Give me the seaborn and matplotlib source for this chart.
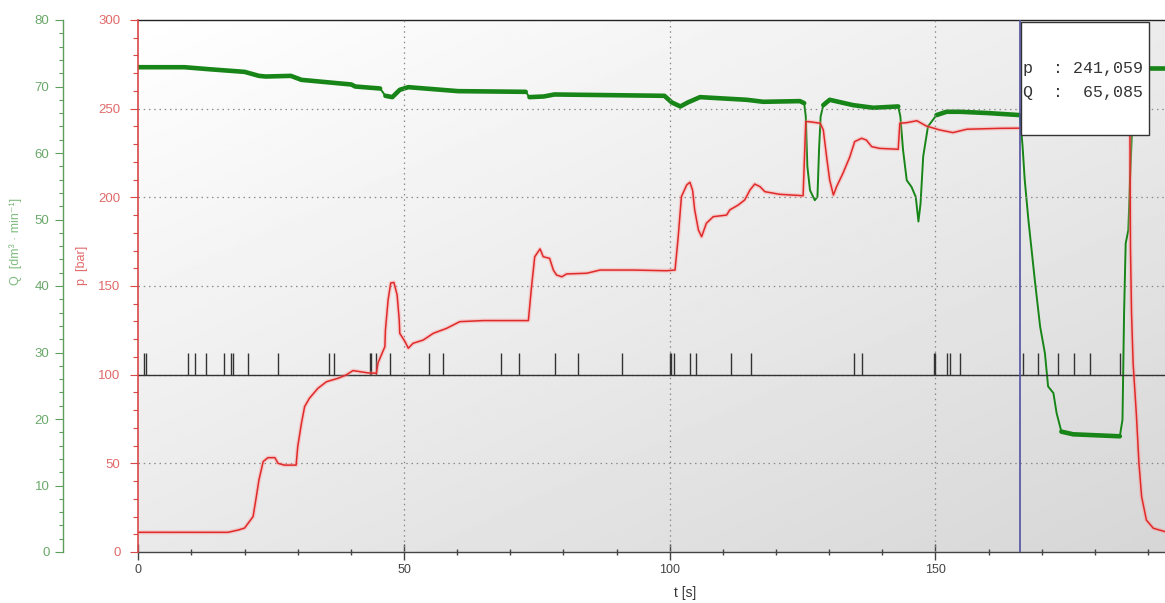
import numpy as np
import pandas as pd
import matplotlib
matplotlib.use("Agg")
import matplotlib.pyplot as plt
import seaborn as sns
from matplotlib.patches import Rectangle
from matplotlib.ticker import FixedLocator, MultipleLocator

# ---------------- data ----------------
t_p = [0, 16.9, 18.8, 20.0, 21.6, 22.2, 22.7, 23.5, 24.4, 25.7, 26.3, 27.5, 29.7, 30.0,
       30.7, 31.3, 32.2, 33.8, 35.4, 37.6, 39.1, 40.4, 43.2, 44.8, 45.1, 46.4, 46.5, 47.0,
       47.5, 48.1, 48.7, 49.1, 49.2, 50.2, 50.8, 51.7, 53.6, 55.5, 58.0, 60.5, 64.9, 73.4,
       74.0, 74.6, 75.6, 76.2, 77.4, 78.1, 78.7, 79.7, 80.6, 84.4, 86.9, 93.1, 99.4, 101.0,
       101.6, 102.2, 103.2, 103.8, 104.3, 104.7, 105.4, 106.0, 106.9, 108.2, 110.7, 111.3,
       112.9, 114.1, 115.1, 116.0, 117.0, 117.9, 120.7, 125.1, 125.6, 126.1, 128.3, 128.9,
       129.6, 130.1, 130.8, 131.4, 132.6, 133.9, 134.8, 136.1, 137.0, 138.0, 139.5, 143.0,
       143.3, 144.6, 146.5, 148.3, 150.8, 153.3, 155.9, 162.1, 165.9, 186.2, 186.6, 186.7,
       186.9, 187.2, 187.8, 188.3, 188.8, 189.7, 191.0, 193.2]
p_bar = [11.1, 11.1, 12.4, 13.5, 20, 31, 40.6, 51, 53.2, 53.2, 50, 49, 49, 59.4,
         72.6, 82, 86.7, 92.3, 96, 98, 99.8, 102.3, 101, 100.8, 106.6, 115.8, 125, 142,
         151.7, 152, 145, 131, 123.3, 118.6, 114.9, 117.7, 119.5, 123.3, 126.1, 129.9, 130.5, 130.5,
         149.6, 166.5, 170.9, 166.5, 165.6, 159, 156.2, 155.2, 156.8, 157.2, 159, 159, 158.6, 159,
         177.8, 200.4, 207, 208.5, 204, 192.9, 181.6, 177.8, 185.4, 189.1, 190, 192.9,
         195.7, 198.5, 204.1, 207.5, 206, 203.2, 201.7, 200.9, 242.7, 242.7, 241.8, 238,
         221, 209.8, 201.3, 206, 213.6, 222.9, 231.4, 233.3, 232.3, 228.6, 227.6, 227.1,
         241.8, 242.1, 243.2, 240.2, 238, 236.5, 238.4, 238.9, 239, 240, 236, 172,
         134.8, 106.4, 78.2, 50, 31.2, 18, 13.4, 11.5]

t_q = [0, 8.7, 13.3, 20.0, 22.7, 24.0, 28.7, 30.7, 40.1, 40.8, 45.5, 46.5, 47.8, 49.2,
       50.8, 60.2, 72.9, 73.6, 76.3, 78.3, 99.0, 100.4, 102.0, 103.4, 105.7, 114.5, 117.6,
       124.5, 125.3, 125.6, 125.9, 126.4, 127.3, 127.8, 128.1, 128.4, 128.9, 130.1, 134.5,
       138.3, 143.0, 143.4, 143.9, 144.6, 145.5, 146.3, 146.8, 147.2, 147.7, 148.6, 150.2,
       152.1, 154.6, 160.0, 165.9, 166.4, 166.8, 167.5, 168.7, 169.7, 170.6, 171.2, 172.2,
       172.8, 173.7, 175.9, 184.7, 185.2, 185.5, 185.8, 186.3, 186.6, 187.3, 188.3, 193.2]
q_flow = [72.9, 72.9, 72.6, 72.2, 71.6, 71.5, 71.6, 71.0, 70.3, 70.0, 69.7, 68.6, 68.4, 69.5,
          69.9, 69.3, 69.2, 68.4, 68.5, 68.8, 68.6, 67.6, 67.0, 67.6, 68.4, 68.0, 67.7,
          67.8, 67.5, 65.5, 58.0, 54.4, 52.9, 53.4, 60.5, 65.5, 67.2, 68.0, 67.2,
          66.8, 67.0, 65.5, 60.5, 55.9, 54.9, 53.4, 49.7, 52.4, 59.5, 64.0, 65.7,
          66.2, 66.2, 66.0, 65.7, 61.0, 56.0, 49.9, 40.9, 33.9, 29.9, 24.9, 23.9,
          20.9, 18.1, 17.7, 17.4, 19.9, 35.9, 46.4, 48.4, 55.5, 70.0, 72.8, 72.8]

event_t = [1.07, 1.39, 9.4, 10.7, 12.7, 16.1, 17.4, 17.8, 20.6, 26.2, 35.8, 36.8, 43.6,
           43.8, 44.8, 47.3, 54.7, 57.4, 68.2, 71.7, 78.5, 82.7, 91.1, 100.0, 100.3, 100.8,
           103.9, 104.9, 111.6, 115.3, 134.6, 136.2, 149.7, 149.9, 152.2, 152.8, 154.6,
           166.4, 169.3, 173.0, 176.0, 179.0, 184.7]
event_level = 100
event_height = 12

cursor_t = 166.0
cursor_p = "241,059"
cursor_q = "65,085"

t_ticks = [0, 50, 100, 150]
p_ticks = [0, 50, 100, 150, 200, 250, 300]
q_ticks = [0, 10, 20, 30, 40, 50, 60, 70, 80]
t_max = 193.2

# ---------------- styling ----------------
sns.set_style("white")
plt.rcParams["font.family"] = ["Liberation Sans", "DejaVu Sans"]

GREEN_LINE = "#178517"
GREEN_TXT = "#6aa86a"
GREEN_SPINE = "#5d9e5d"
RED_LINE = "#e02a2a"
RED_TXT = "#e06a6a"
RED_SPINE = "#d84848"
DARK = "#444444"

W, H = 1165, 603
fig = plt.figure(figsize=(W / 100, H / 100), dpi=100)
left_px, bottom_px, top_px = 138.3, 552, 20
ax = fig.add_axes([left_px / W, 1 - bottom_px / H, 1 - left_px / W, (bottom_px - top_px) / H])
axp = ax.twinx()
axp.set_zorder(ax.get_zorder() + 1)
axp.patch.set_visible(False)

# background gradient
gy, gx = np.mgrid[0:1:200j, 0:1:300j]
grad = 1.0 - 0.085 * gy - 0.075 * gx
ax.imshow(grad, extent=[0, 1, 0, 1], transform=ax.transAxes, aspect="auto",
          cmap="gray", vmin=0, vmax=1, zorder=0, interpolation="bilinear")

# ---------------- Q (green) on host axes ----------------
df_q = pd.DataFrame({"t": t_q, "Q": q_flow})
sns.lineplot(data=df_q, x="t", y="Q", ax=ax, color=GREEN_LINE, lw=1.4,
             estimator=None, sort=False, zorder=3)
tq = np.array(t_q)
qq = np.array(q_flow)
flat = np.abs(np.diff(qq) / np.diff(tq)) < 0.8
rows, run, prev = [], 0, False
for i, f in enumerate(flat):
    if f:
        if not prev:
            run += 1
            rows.append((tq[i], qq[i], run))
        rows.append((tq[i + 1], qq[i + 1], run))
    prev = f
df_thick = pd.DataFrame(rows, columns=["t", "Q", "run"])
sns.lineplot(data=df_thick, x="t", y="Q", units="run", estimator=None, ax=ax,
             color=GREEN_LINE, lw=3.3, sort=False, zorder=3, legend=False)

# ---------------- p (red) on twin axes ----------------
for t in t_ticks[1:]:
    axp.axvline(t, color="#8a8a8a", lw=0.9, ls=(0, (1.2, 3)), zorder=1)
for p in p_ticks[1:-1]:
    axp.axhline(p, color="#8a8a8a", lw=0.9, ls=(0, (1.2, 3)), zorder=1)

axp.axhline(event_level, color="#333333", lw=1.0, zorder=2)
axp.vlines(event_t, event_level, event_level + event_height, color="#333333", lw=1.0, zorder=2)

df_p = pd.DataFrame({"t": t_p, "p": p_bar})
sns.lineplot(data=df_p, x="t", y="p", ax=axp, color="#ff9090", lw=3.0, alpha=0.35,
             estimator=None, sort=False, zorder=3)
sns.lineplot(data=df_p, x="t", y="p", ax=axp, color=RED_LINE, lw=1.1,
             estimator=None, sort=False, zorder=4)

axp.axvline(cursor_t, color="#5050a0", lw=1.2, zorder=5)

# readout box
bx0 = (1021 - left_px) / (W - left_px)
bw = (1149 - 1021) / (W - left_px)
by0 = (bottom_px - 135) / (bottom_px - top_px)
bh = (135 - 22) / (bottom_px - top_px)
axp.add_patch(Rectangle((bx0, by0), bw, bh, transform=axp.transAxes, facecolor="white",
                        edgecolor="#333333", lw=1.0, zorder=10, clip_on=False))
tx = (1023 - left_px) / (W - left_px)
axp.text(tx, (bottom_px - 68) / (bottom_px - top_px), f"p  : {cursor_p}",
         transform=axp.transAxes, ha="left", va="center", family="Liberation Mono",
         fontsize=12, color="#333333", zorder=11)
axp.text(tx, (bottom_px - 92) / (bottom_px - top_px), f"Q  :  {cursor_q}",
         transform=axp.transAxes, ha="left", va="center", family="Liberation Mono",
         fontsize=12, color="#333333", zorder=11)

# ---------------- axes / ticks ----------------
ax.set_xlim(0, t_max)
ax.set_ylim(0, 80)
axp.set_ylim(0, 300)

ax.xaxis.set_major_locator(FixedLocator(t_ticks))
ax.xaxis.set_minor_locator(MultipleLocator(10))
ax.tick_params(axis="x", which="major", direction="inout", length=11.5, width=1,
               color=DARK, labelcolor=DARK, labelsize=9, pad=3)
ax.tick_params(axis="x", which="minor", direction="inout", length=5, width=1, color=DARK)
ax.tick_params(axis="x", bottom=True, which="both")
ax.set_xlabel("t [s]", fontsize=10, color="#333333")
ax.xaxis.set_label_coords((685 - left_px) / (W - left_px), -0.064)

ax.yaxis.tick_left()
ax.yaxis.set_major_locator(FixedLocator(q_ticks))
ax.yaxis.set_minor_locator(MultipleLocator(2))
ax.tick_params(axis="y", which="major", direction="out", length=5.8, width=0.8,
               color=GREEN_SPINE, labelcolor=GREEN_TXT, labelsize=9.5, pad=4, left=True)
ax.tick_params(axis="y", which="minor", direction="out", length=2.6, width=0.8,
               color=GREEN_SPINE, left=True)
ax.spines["left"].set_position(("axes", -(left_px - 63) / (W - left_px)))
ax.spines["left"].set_color(GREEN_SPINE)
ax.spines["left"].set_linewidth(1.0)
ax.spines["bottom"].set_color(DARK)
ax.spines["bottom"].set_linewidth(1.0)
ax.spines["top"].set_color("#222222")
ax.spines["top"].set_linewidth(1.0)
ax.spines["right"].set_visible(False)
ax.set_ylabel("")

axp.yaxis.tick_left()
axp.yaxis.set_major_locator(FixedLocator(p_ticks))
axp.yaxis.set_minor_locator(MultipleLocator(10))
axp.tick_params(axis="y", which="major", direction="out", length=5.8, width=0.8,
                color=RED_SPINE, labelcolor=RED_TXT, labelsize=9.5, pad=7,
                left=True, right=False, labelleft=True, labelright=False)
axp.tick_params(axis="y", which="minor", direction="out", length=3.6, width=0.8,
                color=RED_SPINE, left=True, right=False)
for s in ["top", "bottom", "right"]:
    axp.spines[s].set_visible(False)
axp.spines["left"].set_visible(True)
axp.spines["left"].set_color(RED_SPINE)
axp.spines["left"].set_linewidth(1.2)
axp.set_ylabel("")

fig.text(16 / W, 1 - 285 / H, "Q  [dm³ · min⁻¹]", rotation=90, ha="center", va="bottom",
         fontsize=9, color="#80bb80")
fig.text(82 / W, 1 - 285 / H, "p  [bar]", rotation=90, ha="center", va="bottom",
         fontsize=9, color=RED_TXT)

fig.savefig("out.png", dpi=100, facecolor="white")
